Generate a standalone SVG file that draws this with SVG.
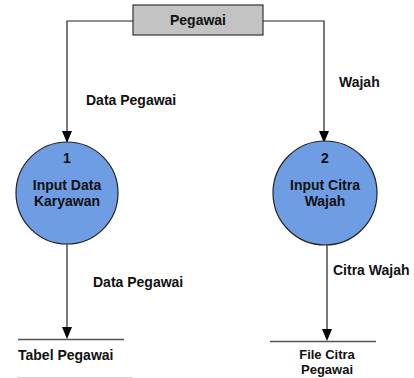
<svg xmlns="http://www.w3.org/2000/svg" width="414" height="378" viewBox="0 0 414 378">
  <defs>
    <style>
      text { font-family: "Liberation Sans", Arial, sans-serif; font-weight: bold; font-size: 14px; fill: #111; }
      .c { text-anchor: middle; }
      .small { font-size: 13px; }
      .flow { fill: none; stroke: #222; stroke-width: 1.2; }
      .head { fill: #000; }
      .proc { fill: #6e9de3; stroke: #222; stroke-width: 1.2; }
      .store { stroke: #555; stroke-width: 1.5; }
    </style>
  </defs>
  <rect width="414" height="378" fill="#fff"/>

  <!-- connectors -->
  <g id="connectors">
    <path class="flow" d="M133,21 H67 V131"/>
    <path class="flow" d="M263,21 H324 V131"/>
    <path class="head" d="M62,131 L72,131 L67,143 Z"/>
    <path class="head" d="M319,131 L329,131 L324,143 Z"/>
    <line class="flow" x1="67" y1="244" x2="67" y2="327"/>
    <path class="head" d="M62,327 L72,327 L67,339 Z"/>
    <line class="flow" x1="327" y1="245" x2="327" y2="329"/>
    <path class="head" d="M322,329 L332,329 L327,341 Z"/>
    <text x="86" y="105">Data Pegawai</text>
    <text x="339" y="87">Wajah</text>
    <text x="93" y="287">Data Pegawai</text>
    <text x="333" y="275">Citra Wajah</text>
  </g>

  <!-- external entity -->
  <g id="pegawai">
    <rect x="133" y="5" width="130" height="30" fill="#c3c3c3" stroke="#333" stroke-width="1.2"/>
    <text class="c" x="198" y="25">Pegawai</text>
  </g>

  <!-- process 1 -->
  <g id="proc1">
    <circle class="proc" cx="67" cy="193" r="51"/>
    <text class="c" x="67" y="163">1</text>
    <text class="c" x="67" y="190">Input Data</text>
    <text class="c" x="67" y="206">Karyawan</text>
  </g>

  <!-- process 2 -->
  <g id="proc2">
    <circle class="proc" cx="325" cy="193" r="52"/>
    <text class="c" x="325" y="163">2</text>
    <text class="c" x="325" y="190">Input Citra</text>
    <text class="c" x="325" y="206">Wajah</text>
  </g>

  <!-- data store: Tabel Pegawai -->
  <g id="store1">
    <line class="store" x1="18" y1="339.5" x2="124" y2="339.5"/>
    <line x1="18" y1="377.5" x2="132" y2="377.5" stroke="#ccc" stroke-width="1"/>
    <text x="18" y="360">Tabel Pegawai</text>
  </g>

  <!-- data store: File Citra Pegawai -->
  <g id="store2">
    <line class="store" x1="270" y1="341.5" x2="376" y2="341.5"/>
    <text class="c small" x="327" y="359">File Citra</text>
    <text class="c small" x="327" y="374">Pegawai</text>
  </g>
</svg>
